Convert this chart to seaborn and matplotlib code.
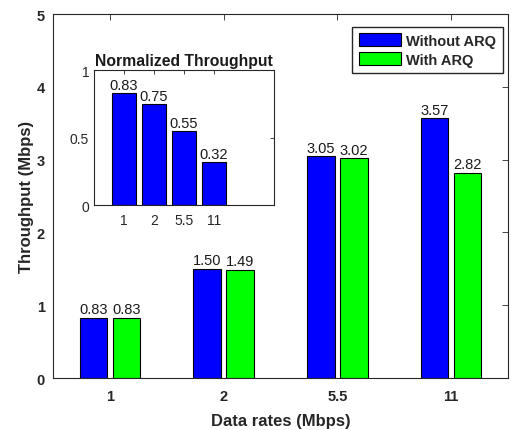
import pandas as pd
import matplotlib.pyplot as plt
import seaborn as sns

# datos
tasas = ['1', '2', '5.5', '11']
sin_arq = [0.83, 1.50, 3.05, 3.57]
con_arq = [0.83, 1.49, 3.02, 2.82]
normalizado = [0.83, 0.75, 0.55, 0.32]
series = ['Without ARQ', 'With ARQ']

sns.set_style('white')
plt.rcParams['font.family'] = ['Liberation Sans', 'DejaVu Sans']

df = pd.DataFrame({
    'tasa': tasas * 2,
    'valor': sin_arq + con_arq,
    'serie': [series[0]] * 4 + [series[1]] * 4,
})
df_norm = pd.DataFrame({'tasa': tasas, 'valor': normalizado})

gris = '#262626'
fig = plt.figure(figsize=(5.17, 4.31), dpi=100)
ax = fig.add_axes([0.1025, 0.1206, 0.880, 0.8445])

sns.barplot(data=df, x='tasa', y='valor', hue='serie', order=tasas,
            palette=['#0000ff', '#00ff00'], saturation=1, width=0.58, gap=0.17,
            edgecolor='black', linewidth=0.8, ax=ax)

for cont in ax.containers:
    ax.bar_label(cont, fmt='%.2f', fontsize=10.5, padding=1, color='#1a1a1a')

ax.set_xlim(-0.5, 3.5)
ax.set_ylim(0, 5)
ax.set_yticks(range(6))
ax.set_xlabel('Data rates (Mbps)', fontsize=12, fontweight='bold', color=gris,
              labelpad=7)
ax.set_ylabel('Throughput (Mbps)', fontsize=12, fontweight='bold', color=gris,
              labelpad=2)
ax.tick_params(direction='in', top=True, right=True, length=4, width=0.6,
               colors=gris, labelsize=10.5)
ax.tick_params(axis='x', pad=8)
ax.tick_params(axis='y', pad=6)
for lbl in ax.get_xticklabels() + ax.get_yticklabels():
    lbl.set_fontweight('bold')
for s in ax.spines.values():
    s.set_color(gris)
    s.set_linewidth(0.8)

handles, labels = ax.get_legend_handles_labels()
ax.legend(handles, labels, loc='upper right', bbox_to_anchor=(0.989, 0.965),
          fancybox=False, framealpha=1, edgecolor=gris, handlelength=2.9,
          handleheight=1.0, handletextpad=0.35, labelspacing=0.3,
          borderpad=0.45, borderaxespad=0,
          prop={'weight': 'bold', 'size': 10.5})

# grafico insertado
axi = fig.add_axes([0.1818, 0.522, 0.348, 0.313])
sns.barplot(data=df_norm, x='tasa', y='valor', order=tasas, color='#0000ff',
            saturation=1, width=0.8, edgecolor='black', linewidth=0.8, ax=axi)
for cont in axi.containers:
    axi.bar_label(cont, fmt='%.2f', fontsize=10.5, padding=0.5, color='#1a1a1a')
axi.set_xlim(-1, 5)
axi.set_ylim(0, 1)
axi.set_yticks([0, 0.5, 1])
axi.set_yticklabels(['0', '0.5', '1'])
axi.set_xlabel('')
axi.set_ylabel('')
axi.set_title('Normalized Throughput', fontsize=11.3, fontweight='bold',
              color='#1a1a1a', pad=4)
axi.tick_params(direction='in', top=True, right=True, length=3, width=0.6,
                colors=gris, labelsize=10)
axi.tick_params(axis='x', pad=6)
for s in axi.spines.values():
    s.set_color(gris)
    s.set_linewidth(0.8)

fig.savefig('out.png', dpi=100)
